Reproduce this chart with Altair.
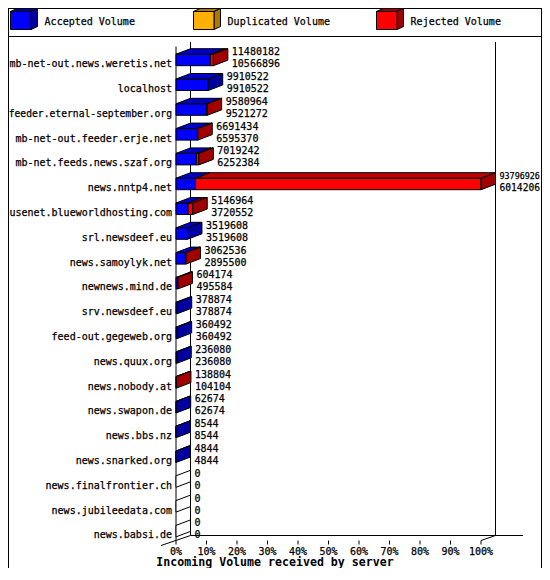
import altair as alt
import pandas as pd

# ---------------- data ----------------
servers = [
    "mb-net-out.news.weretis.net", "localhost", "feeder.eternal-september.org",
    "mb-net-out.feeder.erje.net", "mb-net.feeds.news.szaf.org", "news.nntp4.net",
    "usenet.blueworldhosting.com", "srl.newsdeef.eu", "news.samoylyk.net",
    "newnews.mind.de", "srv.newsdeef.eu", "feed-out.gegeweb.org", "news.quux.org",
    "news.nobody.at", "news.swapon.de", "news.bbs.nz", "news.snarked.org",
    "news.finalfrontier.ch", "news.jubileedata.com", "news.babsi.de",
]
total_volume = [
    11480182, 9910522, 9580964, 6691434, 7019242, 93796926, 5146964, 3519608,
    3062536, 604174, 378874, 360492, 236080, 138804, 62674, 8544, 4844, 0, 0, 0,
]
accepted_volume = [
    10566896, 9910522, 9521272, 6595370, 6252384, 6014206, 3720552, 3519608,
    2895500, 495584, 378874, 360492, 236080, 104104, 62674, 8544, 4844, 0, 0, 0,
]
legend_names = ["Accepted Volume", "Duplicated Volume", "Rejected Volume"]
tick_values = [0, 10, 20, 30, 40, 50, 60, 70, 80, 90, 100]
tick_labels = [f"{v}%" for v in tick_values]
x_title = "Incoming Volume received by server"

# ---------------- styling / geometry ----------------
FONT = "DejaVu Sans Mono"
FS = 10
CHAR_W = 0.602            # advance width of the mono font per px of font size
TXT_STROKE = 0.25
W, H = 534, 560
X0_PX, X100_PX = 168, 473
ROW0_PX, ROW_PITCH = 57.7, 24.8
DEPTH_X_PX, DEPTH_Y_PX = 14.5, 5.5
FACE_H_PX = 11.5
LABEL_RIGHT_PX = X0_PX - 4

n = len(servers)
px_per_pct = (X100_PX - X0_PX) / 100.0
DX = DEPTH_X_PX / px_per_pct
DY = DEPTH_Y_PX / ROW_PITCH
FH = FACE_H_PX / ROW_PITCH

xscale = alt.Scale(domain=[0, 100], range=[X0_PX, X100_PX], nice=False, zero=False)
yscale = alt.Scale(domain=[0, n - 1], range=[ROW0_PX, ROW0_PX + ROW_PITCH * (n - 1)],
                   nice=False, zero=False)

kinds = ["acc_front", "acc_top", "acc_side", "rej_front", "rej_top", "rej_side", "empty_side"]
kind_colors = ["#0000FF", "#0000C8", "#0000A0", "#FF0000", "#C00000", "#A00000", "#FFFFFF"]

vmax = max(total_volume)
rows = pd.DataFrame({
    "server": servers,
    "total": [str(v) for v in total_volume],
    "accepted": [str(v) for v in accepted_volume],
    "row": list(range(n)),
    "tot_pct": [t / vmax * 100 for t in total_volume],
    "acc_pct": [a / vmax * 100 for a in accepted_volume],
})
rows["end_pct"] = rows["tot_pct"] + DX
rows["zero"] = 0.0
# shrink a text only when it would not fit in the space available
rows["fs_label"] = [min(FS, (LABEL_RIGHT_PX - 0.5) / (len(s) * CHAR_W)) for s in servers]
avail = W - 2 - (X0_PX + rows["end_pct"] * px_per_pct + 4)
rows["fs_total"] = [min(FS, a / (len(s) * CHAR_W)) for a, s in zip(avail, rows["total"])]
rows["fs_acc"] = [min(FS, a / (len(s) * CHAR_W)) for a, s in zip(avail, rows["accepted"])]

recs = []
pid = 0
for _, r in rows.iterrows():
    i, xa, x1 = r["row"], r["acc_pct"], r["tot_pct"]
    yb, yt = i, i - FH
    ytb, ybb = yt - DY, yb - DY
    faces = []
    if x1 > 0:
        faces.append(("acc_front", [(0, yb), (xa, yb), (xa, yt), (0, yt)]))
        if x1 > xa:
            faces.append(("rej_front", [(xa, yb), (x1, yb), (x1, yt), (xa, yt)]))
        faces.append(("acc_top", [(0, yt), (xa, yt), (xa + DX, ytb), (DX, ytb)]))
        if x1 > xa:
            faces.append(("rej_top", [(xa, yt), (x1, yt), (x1 + DX, ytb), (xa + DX, ytb)]))
        side = "rej_side" if x1 > xa else "acc_side"
    else:
        side = "empty_side"
    faces.append((side, [(x1, yb), (x1, yt), (x1 + DX, ytb), (x1 + DX, ybb)]))
    for kind, pts in faces:
        for k, (px, py) in enumerate(pts):
            recs.append({"pid": f"p{pid:04d}", "kind": kind, "k": k, "x": px, "y": py})
        pid += 1
poly = pd.DataFrame(recs)

ticks = pd.DataFrame({"pct": tick_values, "label": tick_labels})
one = pd.DataFrame({"a": [0]})

XB0 = X0_PX + DEPTH_X_PX
XB1 = X100_PX + DEPTH_X_PX
FLOOR_FRONT = 532.5
FLOOR_BACK = FLOOR_FRONT - 5

layers = []

# outer frame (left, top, right) and legend separator
layers.append(alt.Chart(one).mark_rule(color="black").encode(
    x=alt.value(0.5), y=alt.value(0), y2=alt.value(H)))
layers.append(alt.Chart(one).mark_rule(color="black").encode(
    x=alt.value(W - 0.5), y=alt.value(0), y2=alt.value(H)))
layers.append(alt.Chart(one).mark_rule(color="black").encode(
    x=alt.value(0), x2=alt.value(W), y=alt.value(0.5)))
layers.append(alt.Chart(one).mark_rule(color="black", strokeWidth=1).encode(
    x=alt.value(0), x2=alt.value(W), y=alt.value(28.5)))

# legend
legend_front = ["#0000FF", "#FFB000", "#FF0000"]
legend_dark = ["#0000A0", "#B07800", "#A00000"]
for k, name in enumerate(legend_names):
    L = 2.5 + 183 * k
    T = 3.5
    layers.append(alt.Chart(one).mark_point(
        shape="M0,0L20.5,0L27,-3L6.5,-3Z", size=4, filled=True, fill=legend_dark[k],
        stroke="black", strokeWidth=1, opacity=1).encode(x=alt.value(L), y=alt.value(T)))
    layers.append(alt.Chart(one).mark_point(
        shape="M20.5,0L27,-3L27,15L20.5,18Z", size=4, filled=True, fill=legend_dark[k],
        stroke="black", strokeWidth=1, opacity=1).encode(x=alt.value(L), y=alt.value(T)))
    layers.append(alt.Chart(one).mark_rect(fill=legend_front[k], stroke="black", strokeWidth=1).encode(
        x=alt.value(L), x2=alt.value(L + 20.5), y=alt.value(T), y2=alt.value(T + 18)))
    layers.append(alt.Chart(pd.DataFrame({"t": [name]})).mark_text(
        align="left", baseline="alphabetic", font=FONT, fontSize=FS, color="black",
        stroke="black", strokeWidth=TXT_STROKE).encode(
        x=alt.value(L + 34.1), y=alt.value(16.5), text="t:N"))

# back walls and floor
layers.append(alt.Chart(one).mark_rule(color="black").encode(
    x=alt.value(XB0), y=alt.value(34), y2=alt.value(FLOOR_BACK)))
layers.append(alt.Chart(one).mark_rule(color="black").encode(
    x=alt.value(XB1), y=alt.value(34), y2=alt.value(FLOOR_BACK)))
layers.append(alt.Chart(one).mark_rule(color="black").encode(
    x=alt.value(XB0), x2=alt.value(515), y=alt.value(FLOOR_BACK)))
layers.append(alt.Chart(one).mark_rule(color="black").encode(
    x=alt.value(153), x2=alt.value(XB0), y=alt.value(FLOOR_BACK + 10), y2=alt.value(FLOOR_BACK)))
layers.append(alt.Chart(one).mark_rule(color="black").encode(
    x=alt.value(X100_PX), x2=alt.value(XB1), y=alt.value(FLOOR_FRONT), y2=alt.value(FLOOR_BACK)))
# front axis line and ticks
layers.append(alt.Chart(one).mark_rule(color="black").encode(
    x=alt.value(X0_PX), y=alt.value(38.5), y2=alt.value(FLOOR_FRONT)))
layers.append(alt.Chart(ticks).mark_rule(color="black").encode(
    x=alt.X("pct:Q", scale=xscale, axis=None), y=alt.value(FLOOR_FRONT), y2=alt.value(FLOOR_FRONT + 4)))

# 3D bars
layers.append(alt.Chart(poly).mark_line(
    interpolate="linear-closed", stroke="black", strokeWidth=1).encode(
    x=alt.X("x:Q", scale=xscale, axis=None),
    y=alt.Y("y:Q", scale=yscale, axis=None),
    fill=alt.Fill("kind:N", scale=alt.Scale(domain=kinds, range=kind_colors), legend=None),
    detail="pid:N",
    order="k:Q",
))

# values
layers.append(alt.Chart(rows).mark_text(
    align="left", baseline="alphabetic", dx=4, dy=-10.5, font=FONT, color="black",
    stroke="black", strokeWidth=TXT_STROKE).encode(
    x=alt.X("end_pct:Q", scale=xscale, axis=None),
    y=alt.Y("row:Q", scale=yscale, axis=None), text="total:N",
    size=alt.Size("fs_total:Q", scale=None, legend=None)))
layers.append(alt.Chart(rows).mark_text(
    align="left", baseline="alphabetic", dx=4, dy=1.5, font=FONT, color="black",
    stroke="black", strokeWidth=TXT_STROKE).encode(
    x=alt.X("end_pct:Q", scale=xscale, axis=None),
    y=alt.Y("row:Q", scale=yscale, axis=None), text="accepted:N",
    size=alt.Size("fs_acc:Q", scale=None, legend=None)))

# server labels
layers.append(alt.Chart(rows).mark_text(
    align="right", baseline="alphabetic", dx=-4, dy=1.5, font=FONT, color="black",
    stroke="black", strokeWidth=TXT_STROKE).encode(
    x=alt.X("zero:Q", scale=xscale, axis=None),
    y=alt.Y("row:Q", scale=yscale, axis=None), text="server:N",
    size=alt.Size("fs_label:Q", scale=None, legend=None)))

# tick labels
layers.append(alt.Chart(ticks).mark_text(
    align="center", baseline="alphabetic", font=FONT, fontSize=FS, color="black",
    stroke="black", strokeWidth=TXT_STROKE).encode(
    x=alt.X("pct:Q", scale=xscale, axis=None), y=alt.value(546.5), text="label:N"))

# x title
layers.append(alt.Chart(pd.DataFrame({"t": [x_title]})).mark_text(
    align="center", baseline="alphabetic", font=FONT, fontSize=11.6, fontWeight="bold",
    color="black").encode(x=alt.value(267), y=alt.value(558), text="t:N"))

chart = alt.layer(*layers).properties(
    width=W, height=H,
    autosize=alt.AutoSizeParams(type="none"),
    padding=0,
    background="white",
).configure_view(stroke=None)

chart.save("out.html", embed_options={"renderer": "svg", "actions": False})
